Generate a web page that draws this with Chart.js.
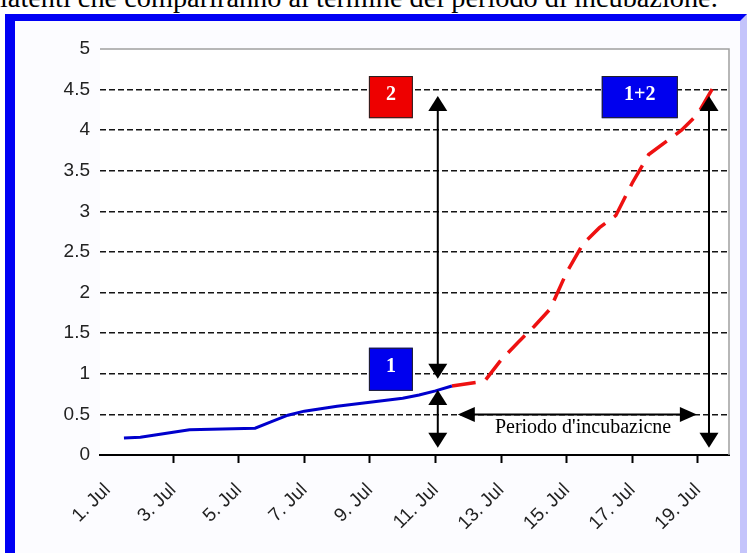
<!DOCTYPE html>
<html>
<head>
<meta charset="utf-8">
<title>Periodo d'incubazione</title>
<script src="https://cdn.jsdelivr.net/npm/chart.js@4.4.1/dist/chart.umd.min.js"></script>
<style>
    html, body {
        margin: 0;
        padding: 0;
        width: 747px;
        height: 553px;
        overflow: hidden;
        background: #fff;
    }
    #caption {
        position: absolute;
        left: 0;
        top: -15px;
        font-family: "Liberation Serif", "Times New Roman", serif;
        font-size: 26px;
        line-height: 26px;
        white-space: nowrap;
        color: #000;
    }
    #frame {
        position: absolute;
        left: 5px;
        top: 14px;
        right: 0;
        bottom: -10px;
        box-sizing: border-box;
        border-left: 10px solid #0000f4;
        border-top: 7px solid #0000f4;
        border-right: 7px solid #c4c4fb;
        background: #fcfcff;
    }
    #chart {
        position: absolute;
        left: 0;
        top: 0;
    }
</style>
</head>
<body>
<div id="caption">latenti che compariranno al termine del periodo di incubazione.</div>
<div id="frame"></div>
<canvas id="chart" width="747" height="553"></canvas>
<script>
(function() {
    'use strict';

    // x axis: days of July, tick every second day
    const tickDays = [1, 3, 5, 7, 9, 11, 13, 15, 17, 19];
    const tickLabels = ['1. Jul', '3. Jul', '5. Jul', '7. Jul', '9. Jul',
                        '11. Jul', '13. Jul', '15. Jul', '17. Jul', '19. Jul'];

    // y axis ticks
    const yTicks = [0, 0.5, 1, 1.5, 2, 2.5, 3, 3.5, 4, 4.5, 5];
    const yTickLabels = ['0', '0.5', '1', '1.5', '2', '2.5', '3', '3.5', '4', '4.5', '5'];

    // series 1 (blue, solid)
    const blueDays   = [1.5, 2, 2.5, 3, 3.5, 4.5, 5.5, 6, 6.5, 7, 8, 9, 10, 10.5, 11, 11.5];
    const blueValues = [0.21, 0.22, 0.25, 0.28, 0.31, 0.32, 0.33, 0.41, 0.49, 0.54, 0.60, 0.65, 0.70, 0.74, 0.79, 0.85];

    // series 1+2 (red, dashed)
    const redDays   = [11.5, 12.5, 13, 13.5, 14, 14.5, 15, 15.5, 16, 16.5, 17, 17.5, 18, 18.5, 19, 19.5];
    const redValues = [0.85, 0.91, 1.17, 1.38, 1.58, 1.80, 2.25, 2.60, 2.80, 2.95, 3.35, 3.70, 3.85, 4.00, 4.20, 4.55];

    // annotations, in axis units (day, value)
    const boxes = [
        { label: '2',   x1: 8.97,  x2: 10.31, y1: 4.667, y2: 4.148, fill: '#ee0000' },
        { label: '1+2', x1: 16.07, x2: 18.39, y1: 4.667, y2: 4.148, fill: '#0000ee' },
        { label: '1',   x1: 8.97,  x2: 10.31, y1: 1.321, y2: 0.790, fill: '#0000ee' }
    ];
    const vArrows = [
        { x: 11.07, top: 4.42, bottom: 0.94 },
        { x: 11.07, top: 0.80, bottom: 0.09 },
        { x: 19.34, top: 4.42, bottom: 0.09 }
    ];
    const hArrow = { y: 0.5, left: 11.68, right: 18.97 };
    const incubationText = { text: "Periodo d'incubazicne", x: 15.5, y: 0.33 };

    const X_MIN = 0.77;
    const X_MAX = 19.95;

    // fit the caption line to the page width
    const caption = document.getElementById('caption');
    const w = caption.getBoundingClientRect().width;
    if (w > 0) {
        caption.style.fontSize = (26 * 718 / w).toFixed(2) + 'px';
    }

    function toPoints(days, values) {
        return days.map(function(d, i) {
            return { x: d, y: values[i] };
        });
    }

    function arrowHead(ctx, tipX, tipY, dirX, dirY, len, half) {
        const bx = tipX - dirX * len;
        const by = tipY - dirY * len;
        ctx.beginPath();
        ctx.moveTo(tipX, tipY);
        ctx.lineTo(bx - dirY * half, by + dirX * half);
        ctx.lineTo(bx + dirY * half, by - dirX * half);
        ctx.closePath();
        ctx.fill();
    }

    /**
     * Plot background, plot border and the drawn-on arrows, boxes and text
     */
    const decorations = {
        id: 'decorations',
        beforeDraw: function(chart) {
            const ctx = chart.ctx;
            const a = chart.chartArea;
            ctx.save();
            ctx.fillStyle = '#ffffff';
            ctx.fillRect(a.left, a.top, a.right - a.left, a.bottom - a.top);
            ctx.restore();
        },
        afterDatasetsDraw: function(chart) {
            const ctx = chart.ctx;
            const a = chart.chartArea;
            const x = chart.scales.x;
            const y = chart.scales.y;

            ctx.save();

            // grey border on top and right of plot area
            ctx.strokeStyle = '#a0a0a0';
            ctx.lineWidth = 1.5;
            ctx.beginPath();
            ctx.moveTo(a.left, a.top);
            ctx.lineTo(a.right, a.top);
            ctx.lineTo(a.right, a.bottom);
            ctx.stroke();

            // vertical double arrows
            ctx.strokeStyle = '#000';
            ctx.fillStyle = '#000';
            ctx.lineWidth = 2;
            vArrows.forEach(function(arr) {
                const px = x.getPixelForValue(arr.x);
                const pt = y.getPixelForValue(arr.top);
                const pb = y.getPixelForValue(arr.bottom);
                ctx.beginPath();
                ctx.moveTo(px, pt + 6);
                ctx.lineTo(px, pb - 6);
                ctx.stroke();
                arrowHead(ctx, px, pt, 0, -1, 15, 9.5);
                arrowHead(ctx, px, pb, 0, 1, 15, 9.5);
            });

            // horizontal double arrow
            const hy = y.getPixelForValue(hArrow.y);
            const hl = x.getPixelForValue(hArrow.left);
            const hr = x.getPixelForValue(hArrow.right);
            ctx.beginPath();
            ctx.moveTo(hl + 6, hy);
            ctx.lineTo(hr - 6, hy);
            ctx.stroke();
            arrowHead(ctx, hl, hy, -1, 0, 17, 7.5);
            arrowHead(ctx, hr, hy, 1, 0, 17, 7.5);

            // text under the horizontal arrow
            ctx.font = '20px "Liberation Serif", "Times New Roman", serif';
            ctx.textAlign = 'center';
            ctx.textBaseline = 'middle';
            ctx.fillText(incubationText.text,
                x.getPixelForValue(incubationText.x),
                y.getPixelForValue(incubationText.y));

            // labelled boxes
            boxes.forEach(function(b) {
                const l = x.getPixelForValue(b.x1);
                const r = x.getPixelForValue(b.x2);
                const t = y.getPixelForValue(b.y1);
                const bt = y.getPixelForValue(b.y2);
                ctx.fillStyle = b.fill;
                ctx.fillRect(l, t, r - l, bt - t);
                ctx.strokeStyle = '#222';
                ctx.lineWidth = 1;
                ctx.strokeRect(l + 0.5, t + 0.5, r - l - 1, bt - t - 1);
                ctx.fillStyle = '#fff';
                ctx.font = 'bold 20px "Liberation Serif", "Times New Roman", serif';
                ctx.textAlign = 'center';
                ctx.textBaseline = 'middle';
                ctx.fillText(b.label, (l + r) / 2, (t + bt) / 2 - 2);
            });

            ctx.restore();
        }
    };

    const canvas = document.getElementById('chart');

    new Chart(canvas.getContext('2d'), {
        type: 'line',
        data: {
            datasets: [{
                label: '1',
                data: toPoints(blueDays, blueValues),
                borderColor: '#0000cc',
                borderWidth: 3,
                pointRadius: 0,
                tension: 0,
                fill: false
            }, {
                label: '1+2',
                data: toPoints(redDays, redValues),
                borderColor: '#ee1111',
                borderWidth: 3.5,
                borderDash: [24, 11],
                pointRadius: 0,
                tension: 0,
                fill: false
            }]
        },
        options: {
            responsive: false,
            animation: false,
            events: [],
            layout: {
                padding: { left: 0, top: 49, right: 18, bottom: 0 }
            },
            plugins: {
                legend: { display: false },
                tooltip: { enabled: false }
            },
            scales: {
                x: {
                    type: 'linear',
                    min: X_MIN,
                    max: X_MAX,
                    afterBuildTicks: function(scale) {
                        scale.ticks = tickDays.map(function(v) { return { value: v }; });
                    },
                    afterFit: function(scale) {
                        scale.height = 98;
                    },
                    ticks: {
                        autoSkip: false,
                        maxRotation: 45,
                        minRotation: 45,
                        padding: 16,
                        color: '#222',
                        font: { family: '"Liberation Sans", Arial, sans-serif', size: 19 },
                        callback: function(value) {
                            const i = tickDays.indexOf(value);
                            return i >= 0 ? tickLabels[i] : '';
                        }
                    },
                    grid: {
                        drawOnChartArea: false,
                        drawTicks: true,
                        tickLength: 8,
                        tickWidth: 2,
                        tickColor: function(ctx) {
                            return ctx.tick && ctx.tick.value === 1 ? 'rgba(0,0,0,0)' : '#000';
                        }
                    },
                    border: {
                        display: true,
                        color: '#000',
                        width: 2
                    }
                },
                y: {
                    min: 0,
                    max: 5,
                    afterBuildTicks: function(scale) {
                        scale.ticks = yTicks.map(function(v) { return { value: v }; });
                    },
                    afterFit: function(scale) {
                        scale.width = 100;
                    },
                    ticks: {
                        padding: 10,
                        color: '#222',
                        font: { family: '"Liberation Sans", Arial, sans-serif', size: 19 },
                        callback: function(value) {
                            const i = yTicks.indexOf(value);
                            return i >= 0 ? yTickLabels[i] : '';
                        }
                    },
                    grid: {
                        drawTicks: false,
                        lineWidth: 1.5,
                        color: function(ctx) {
                            const v = ctx.tick ? ctx.tick.value : null;
                            return (v === 0 || v === 5) ? 'rgba(0,0,0,0)' : '#151515';
                        }
                    },
                    border: {
                        display: false,
                        dash: [6, 3]
                    }
                }
            }
        },
        plugins: [decorations]
    });
})();
</script>
</body>
</html>
